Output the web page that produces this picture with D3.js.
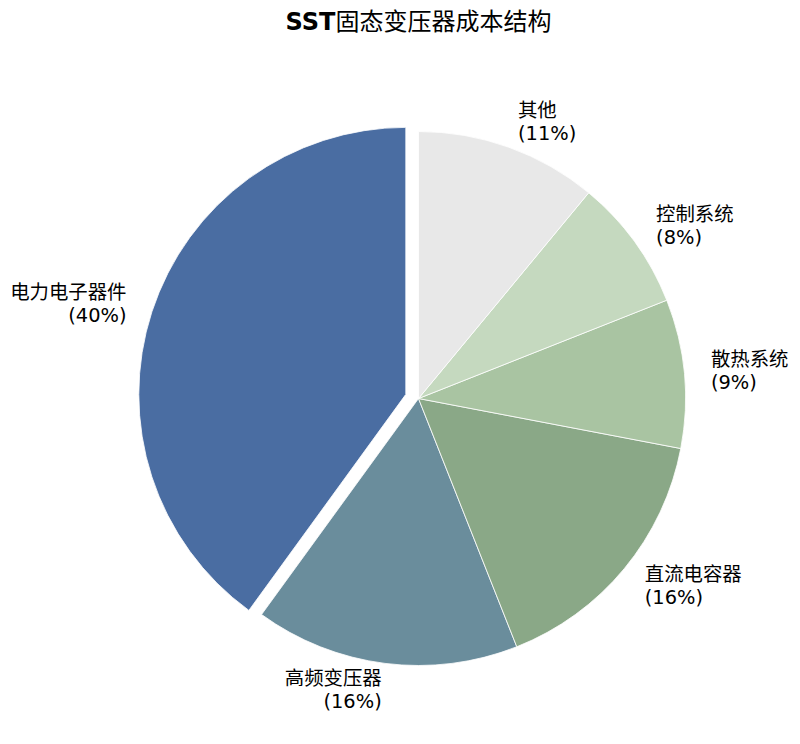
<!DOCTYPE html>
<html><head><meta charset="utf-8">
<script src="https://cdn.jsdelivr.net/npm/d3@7"></script>
<style>
body{margin:0;background:#fff;}
text{font-family:"DejaVu Sans","Noto Sans CJK SC",sans-serif;}
</style></head>
<body><svg id="c" width="800" height="744"></svg>
<script>
const categories = ["电力电子器件","高频变压器","直流电容器","散热系统","控制系统","其他"];
const values = [40,16,16,9,8,11];
const explode = [0.05,0,0,0,0,0];
const colors = ["#4a6da2","#6a8d9c","#8aa887","#a9c4a2","#c5d9bf","#e8e8e8"];
const titleLatin = "SST";
const titleCJK = "固态变压器成本结构";

const svg = d3.select("#c");
const cx = 418.5, cy = 398.5, R = 267;

const tt = svg.append("text").attr("x", cx).attr("y", 22).attr("text-anchor","middle")
  .attr("dominant-baseline","central").attr("font-size", 24).attr("fill","#000");
tt.append("tspan").attr("font-weight","bold").text(titleLatin);
tt.append("tspan").attr("font-weight","normal").text(titleCJK);

const data = categories.map((c,i)=>({cat:c, value:values[i], explode:explode[i], color:colors[i]}));
const pie = d3.pie().value(d=>d.value).sort(null).startAngle(0).endAngle(-2*Math.PI);
const arcs = pie(data);
const arc = d3.arc().innerRadius(0).outerRadius(R);

const g = svg.append("g").attr("transform", `translate(${cx},${cy})`);
const total = d3.sum(values);

arcs.forEach(a=>{
  const mid = (a.startAngle + a.endAngle)/2;
  const off = a.data.explode * R;
  const ox = Math.sin(mid)*off, oy = -Math.cos(mid)*off;
  g.append("path").attr("d", arc(a)).attr("fill", a.data.color)
    .attr("stroke","#fff").attr("stroke-width",0.8)
    .attr("transform", `translate(${ox},${oy})`);
  const lr = 1.1*R;
  const lx = ox + Math.sin(mid)*lr, ly = oy - Math.cos(mid)*lr;
  const anchor = lx < 0 ? "end" : "start";
  const pct = Math.round(a.data.value/total*100);
  const t = g.append("text").attr("text-anchor", anchor).attr("font-size", 19.4).attr("fill","#000");
  t.append("tspan").attr("x", lx).attr("y", ly-11.6).attr("dominant-baseline","central").text(a.data.cat);
  t.append("tspan").attr("x", lx).attr("y", ly+11.6).attr("dominant-baseline","central").text(`(${pct}%)`);
});
</script></body></html>
